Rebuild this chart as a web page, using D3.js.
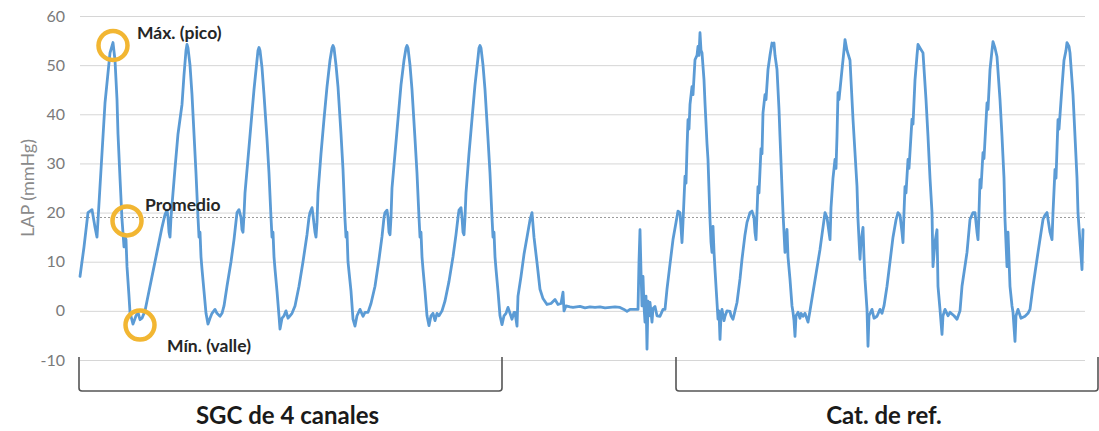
<!DOCTYPE html>
<html>
<head>
<meta charset="utf-8">
<script src="https://cdn.jsdelivr.net/npm/d3@7"></script>
<style>
  body { margin: 0; background: #fff; }
  svg { display: block; }
</style>
</head>
<body>
<svg id="chart" width="1099" height="431"></svg>
<script>
// LAP axis ticks (mmHg)
const yTicks = [-10, 0, 10, 20, 30, 40, 50, 60];
const yLabel = "LAP (mmHg)";
const averageLAP = 19;

// Pressure trace, [time in s, LAP in mmHg] — 4-channel SGC recording
const sgcTrace = [
  [0.00,7],[0.04,13],[0.08,20],[0.12,20.6],[0.15,17],[0.17,15],[0.20,25.3],[0.25,42.3],[0.30,52.5],[0.33,54.6],
  [0.35,51],[0.37,43],[0.38,36],[0.40,27],[0.42,18.6],[0.44,13],[0.45,15],[0.46,14.5],[0.47,9],[0.49,3],
  [0.50,-0.3],[0.53,-2.7],[0.56,-1],[0.58,-0.3],[0.60,-1.8],[0.62,-1.5],[0.65,0],[0.67,2],[0.70,5],[0.74,9],
  [0.77,12],[0.80,15],[0.82,17],[0.85,19.6],[0.87,20.5],
  [0.88,19],[0.89,16],[0.90,15],[0.91,19],[0.93,24],[0.95,29],[0.98,36],[1.02,42],[1.04,48],[1.06,53],
  [1.07,54.2],[1.08,53.5],[1.10,50],[1.12,44],[1.14,36],[1.16,28],[1.18,19],[1.19,15],[1.20,16],[1.21,11],
  [1.22,8.5],[1.24,4],[1.26,-0.5],[1.28,-2.7],[1.30,-1.5],[1.32,-0.5],[1.35,0.3],[1.37,-0.5],[1.40,-1.1],[1.42,-0.5],
  [1.44,1],[1.47,5],[1.51,10],[1.54,14.5],[1.57,20],[1.59,20.6],
  [1.61,19],[1.62,16.5],[1.63,16],[1.64,19.5],[1.65,24],[1.68,31],[1.71,38],[1.74,45],[1.77,51],[1.78,53],
  [1.79,53.6],[1.80,53],[1.82,49.5],[1.84,44],[1.87,35],[1.89,28],[1.91,19],[1.92,15],[1.93,16],[1.94,11],
  [1.95,8.5],[1.97,4],[1.99,-1],[2.00,-3.7],[2.02,-1.5],[2.04,-1],[2.06,0],[2.08,-1.5],[2.10,-1],[2.12,-0.5],
  [2.15,1],[2.19,5],[2.23,10],[2.27,15.5],[2.29,19],[2.30,20],
  [2.32,21],[2.33,19.5],[2.35,16],[2.36,15],[2.37,18],[2.38,24],[2.41,32],[2.44,39],[2.47,45.6],[2.50,51],
  [2.52,53.5],[2.53,54],[2.54,53.5],[2.56,50],[2.58,45.6],[2.61,36],[2.63,28.8],[2.65,18.6],[2.66,15],[2.67,16],
  [2.68,10],[2.69,8],[2.71,4],[2.73,-1.7],[2.75,-3.1],[2.77,-1],[2.80,0.3],[2.83,-1.1],[2.85,-0.3],[2.88,-0.3],
  [2.91,1.5],[2.95,5],[2.99,10.5],[3.02,15.1],[3.04,19],[3.05,20],
  [3.07,20.5],[3.08,19],[3.09,16],[3.10,15.5],[3.11,19],[3.12,25],[3.15,32],[3.18,39],[3.21,46],[3.24,51],
  [3.26,53.5],[3.27,54],[3.28,53.5],[3.30,50],[3.32,45],[3.35,35],[3.37,28],[3.39,19],[3.40,15],[3.41,16],
  [3.42,11],[3.43,8.5],[3.45,4],[3.47,-1],[3.49,-3],[3.51,-1],[3.53,-0.5],[3.55,-2],[3.57,-0.5],[3.59,-1],
  [3.62,0],[3.65,2],[3.69,6],[3.73,11],[3.76,15.5],[3.78,19],[3.79,20.5],
  [3.81,21],[3.82,19],[3.83,16],[3.84,15.5],[3.85,19],[3.86,24],[3.89,32],[3.92,39],[3.95,46],[3.98,51.5],
  [3.99,53.5],[4.00,54],[4.01,53.5],[4.03,50],[4.05,45],[4.08,35],[4.10,28],[4.12,19],[4.13,15],[4.14,16],
  [4.15,11],[4.16,8.5],[4.18,4],[4.20,-1],[4.22,-2.8],[4.24,-1],[4.26,-0.5],[4.28,0.7],[4.30,-0.5],[4.32,-1.7],
  [4.34,-0.3],[4.35,-0.3],[4.37,-3.1]
];

// Catheter switch-over: last beat, flat baseline, reconnection artefact
const pauseTrace = [
  [4.38,3],[4.41,7],[4.44,11.5],[4.47,15],[4.50,18.5],[4.52,20],[4.54,15],[4.57,9.8],[4.60,4.4],[4.63,2.5],
  [4.67,1.3],[4.71,1.5],[4.75,2.3],[4.78,1.3],[4.81,1.5],[4.83,3.8],[4.84,0],[4.86,1],[4.90,0.8],[4.93,0.7],
  [5.00,0.9],[5.05,0.6],[5.10,0.8],[5.15,0.7],[5.20,0.8],[5.25,0.6],[5.30,0.7],[5.35,0.8],[5.40,0.7],[5.44,0.3],
  [5.47,-0.1],[5.50,0.3],[5.54,0.3],[5.58,0.3],[5.59,10],[5.60,16.5],[5.61,8],[5.62,1],[5.63,7],[5.64,1],
  [5.65,-2.3],[5.66,3],[5.67,-7.8],[5.68,2],[5.69,-1],[5.70,1.7],[5.72,-2.3],[5.73,0.5],[5.75,0.9],[5.77,-1],
  [5.80,-1.1],[5.83,0.3],[5.85,0.3],[5.87,4.4],[5.90,9.5],[5.93,14.5],[5.96,18],[5.98,20.3]
];

// Reference catheter recording
const refTrace = [
  [6.00,20],[6.01,17],[6.02,13.9],[6.03,18],[6.05,27.4],[6.06,26],[6.07,33],[6.08,38.9],[6.09,37],[6.10,42],
  [6.12,45.6],[6.13,44],[6.15,51.1],[6.17,52],[6.18,53.8],[6.19,52],[6.20,56.6],[6.21,53],[6.22,52.5],[6.24,47],
  [6.25,42.3],[6.27,34],[6.28,30.8],[6.30,18.6],[6.31,14],[6.32,11.9],[6.33,17.2],[6.34,12],[6.35,8.4],[6.36,5],
  [6.37,1.7],[6.38,-1.7],[6.39,0],[6.40,-5.8],[6.41,-1],[6.42,0.3],[6.44,-2],[6.45,-1.1],[6.47,0],[6.50,-0.1],
  [6.51,-1],[6.53,-1.7],[6.55,0],[6.57,1.7],[6.60,6.5],[6.62,10.5],[6.65,15.5],[6.67,18],[6.70,20],[6.72,20.3],
  [6.74,19],[6.75,16],[6.76,14.5],[6.77,20],[6.78,25.3],[6.79,24],[6.81,33],[6.82,32],[6.83,40.3],[6.85,44],
  [6.86,43],[6.88,49.1],[6.90,52],[6.92,54.5],[6.93,54.2],[6.94,54.5],[6.95,52],[6.97,49.1],[6.99,41],[7.00,35.5],
  [7.02,25],[7.03,20],[7.05,11.9],[7.06,14],[7.07,16.6],[7.08,11],[7.10,6.4],[7.12,1],[7.13,-0.3],[7.14,-2],
  [7.15,-5.2],[7.16,-1],[7.18,-0.3],[7.20,-1.5],[7.21,-0.5],[7.23,-1.1],[7.25,-0.5],[7.28,-2.3],[7.30,0],[7.33,3.8],
  [7.36,7.5],[7.40,12.5],[7.42,15.5],[7.45,20],
  [7.47,19],[7.49,16],[7.50,14.5],[7.51,21],[7.53,27],[7.55,30.8],[7.56,29],[7.57,35.5],[7.58,44.4],[7.59,43],
  [7.62,49.1],[7.64,53],[7.65,55.2],[7.67,53],[7.70,51],[7.73,39],[7.77,25.3],[7.78,18.6],[7.80,10.5],[7.81,14],
  [7.83,17],[7.84,11],[7.85,6.4],[7.87,0.3],[7.88,-7.2],[7.89,-1],[7.92,0.3],[7.94,-1.5],[7.97,-1.1],[8.00,0.3],
  [8.02,-0.5],[8.04,1],[8.07,5],[8.10,10],[8.13,15],[8.16,18.5],[8.18,20],[8.20,19.5],
  [8.22,16],[8.23,13.9],[8.24,20],[8.25,25.3],[8.26,24],[8.28,30.8],[8.29,29],[8.32,39],[8.33,38],[8.35,47],
  [8.37,52],[8.38,54.2],[8.40,53.5],[8.43,52.5],[8.46,43],[8.48,35.5],[8.50,27],[8.52,20],[8.53,9],[8.55,14],
  [8.57,16.5],[8.58,5],[8.60,0.3],[8.62,-4.8],[8.63,-1],[8.65,0.3],[8.68,-1],[8.70,-0.3],[8.74,-1],[8.77,-1.7],
  [8.80,0],[8.82,5],[8.87,11.9],[8.90,18.6],[8.93,20],[8.95,20],
  [8.97,16],[8.98,14.5],[8.99,20],[9.00,26.7],[9.01,25],[9.03,32.2],[9.04,31],[9.07,42.3],[9.08,41],[9.10,49.1],
  [9.12,53],[9.13,54.8],[9.15,53.5],[9.17,51.7],[9.20,43],[9.22,35.5],[9.24,27],[9.25,18.6],[9.27,9],[9.28,16],
  [9.30,5],[9.32,1],[9.33,-0.3],[9.35,-6.2],[9.36,-1],[9.38,0.3],[9.41,-1.5],[9.45,-1.1],[9.48,-0.5],[9.50,0.3],
  [9.53,5],[9.58,11.9],[9.63,18.6],[9.65,19.5],[9.67,20],
  [9.70,16],[9.72,14.5],[9.73,20],[9.75,28.8],[9.76,27],[9.78,38.9],[9.79,37],[9.82,45.6],[9.84,51],[9.86,53],
  [9.87,54.6],[9.89,53.8],[9.90,52.5],[9.93,44],[9.95,35.5],[9.97,27],[9.98,20],[10.00,14],[10.02,8.4],[10.03,16.5]
];

// Highlighted points of the first beat
const annotationLabels = ["Máx. (pico)", "Promedio", "Mín. (valle)"];
const annotationTimes = [0.33, 0.47, 0.60];
const annotationValues = [54, 18.3, -2.9];

// Recording segments marked under the axis
const segmentLabels = ["SGC de 4 canales", "Cat. de ref."];
const segmentStarts = [0, 5.97];
const segmentEnds = [4.22, 10.18];

const svg = d3.select("#chart");
const x = d3.scaleLinear().domain([0, 10.05]).range([80, 1085]);
const y = d3.scaleLinear().domain([-10, 60]).range([360, 16]);
const font = "Lato, 'Open Sans', sans-serif";

svg.append("rect").attr("width", 1099).attr("height", 431).attr("fill", "#fff");

// Horizontal gridlines + tick labels
const yAxis = d3.axisLeft(y)
  .tickValues(yTicks)
  .tickFormat(d => String(d))
  .tickSize(-(x.range()[1] - x.range()[0]))
  .tickPadding(15);
const gAxis = svg.append("g").attr("transform", `translate(${x.range()[0]},0)`).call(yAxis);
gAxis.select(".domain").remove();
gAxis.selectAll(".tick line").attr("stroke", "#d6d6d6").attr("stroke-width", 1);
gAxis.selectAll(".tick text")
  .attr("fill", "#7a7a7a")
  .style("font-family", font)
  .style("font-size", "16px");

// Axis title
svg.append("text")
  .attr("transform", `translate(34,${(y(-10) + y(60)) / 2}) rotate(-90)`)
  .attr("text-anchor", "middle")
  .attr("fill", "#8a8a8a")
  .style("font-family", font)
  .style("font-size", "18px")
  .text(yLabel);

// Mean pressure line
svg.append("line")
  .attr("x1", x.range()[0]).attr("x2", x.range()[1])
  .attr("y1", y(averageLAP)).attr("y2", y(averageLAP))
  .attr("stroke", "#9a9a9a").attr("stroke-width", 1).attr("stroke-dasharray", "2,2");

// Pressure trace
const trace = sgcTrace.concat(pauseTrace, refTrace);
const line = d3.line().x(d => x(d[0])).y(d => y(d[1]));
svg.append("path")
  .datum(trace)
  .attr("d", line)
  .attr("fill", "none")
  .attr("stroke", "#5b9bd5")
  .attr("stroke-width", 2.8)
  .attr("stroke-linejoin", "round")
  .attr("stroke-linecap", "round");

// Markers and their captions
const labelOffsets = [[24, -13], [18, -16], [27, 20]];
annotationLabels.forEach((label, i) => {
  const cx = x(annotationTimes[i]), cy = y(annotationValues[i]);
  svg.append("circle")
    .attr("cx", cx).attr("cy", cy).attr("r", 14.5)
    .attr("fill", "none").attr("stroke", "#f2b632").attr("stroke-width", 4.5);
  svg.append("text")
    .attr("x", cx + labelOffsets[i][0]).attr("y", cy + labelOffsets[i][1])
    .attr("dominant-baseline", "central")
    .attr("fill", "#262626")
    .style("font-family", font)
    .style("font-weight", "bold")
    .style("font-size", "17.5px")
    .text(label);
});

// Segment brackets
const bTop = 357, bBot = 391, r = 3;
segmentLabels.forEach((label, i) => {
  const x0 = x(segmentStarts[i]) - 1, x1 = x(segmentEnds[i]);
  svg.append("path")
    .attr("d", `M${x0},${bTop}V${bBot - r}Q${x0},${bBot} ${x0 + r},${bBot}H${x1 - r}Q${x1},${bBot} ${x1},${bBot - r}V${bTop}`)
    .attr("fill", "none").attr("stroke", "#555").attr("stroke-width", 1.6);
  svg.append("text")
    .attr("x", (x0 + x1) / 2 - 3).attr("y", 424)
    .attr("text-anchor", "middle")
    .attr("fill", "#1a1a1a")
    .style("font-family", font)
    .style("font-weight", "bold")
    .style("font-size", "24px")
    .text(label);
});
</script>
</body>
</html>
